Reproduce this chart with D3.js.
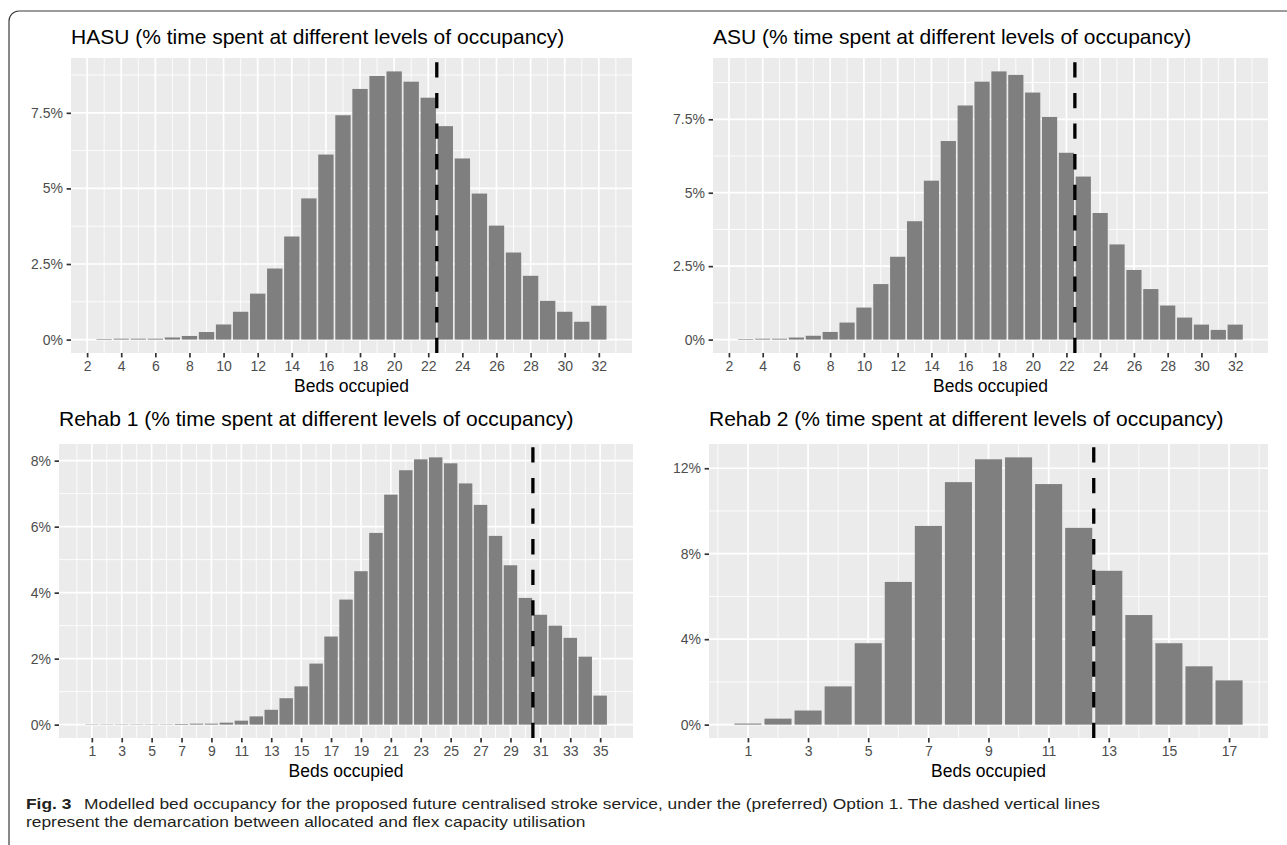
<!DOCTYPE html>
<html>
<head>
<meta charset="utf-8">
<script src="https://cdn.jsdelivr.net/npm/d3@7/dist/d3.min.js"></script>
<style>
  body { margin: 0; background: #fff; }
  svg { display: block; font-family: "Liberation Sans", Arial, Helvetica, sans-serif; }
</style>
</head>
<body>
<svg id="svg" width="1287" height="845"></svg>
<script>
// beds occupied -> % of time
const hasuBeds = [3, 4, 5, 6, 7, 8, 9, 10, 11, 12, 13, 14, 15, 16, 17, 18, 19, 20, 21, 22, 23, 24, 25, 26, 27, 28, 29, 30, 31, 32];
const hasuPct = [0.02, 0.03, 0.03, 0.03, 0.07, 0.12, 0.25, 0.5, 0.92, 1.52, 2.35, 3.41, 4.67, 6.12, 7.42, 8.29, 8.72, 8.87, 8.53, 8.0, 7.06, 5.99, 4.83, 3.77, 2.88, 2.11, 1.28, 0.92, 0.59, 1.12];

const asuBeds = [3, 4, 5, 6, 7, 8, 9, 10, 11, 12, 13, 14, 15, 16, 17, 18, 19, 20, 21, 22, 23, 24, 25, 26, 27, 28, 29, 30, 31, 32];
const asuPct = [0.02, 0.03, 0.03, 0.07, 0.13, 0.26, 0.58, 1.09, 1.89, 2.82, 4.03, 5.41, 6.76, 7.97, 8.78, 9.13, 9.01, 8.41, 7.58, 6.36, 5.55, 4.31, 3.24, 2.37, 1.72, 1.16, 0.75, 0.51, 0.33, 0.51];

const rehab1Beds = [1, 2, 3, 4, 5, 6, 7, 8, 9, 10, 11, 12, 13, 14, 15, 16, 17, 18, 19, 20, 21, 22, 23, 24, 25, 26, 27, 28, 29, 30, 31, 32, 33, 34, 35];
const rehab1Pct = [0.01, 0.01, 0.01, 0.01, 0.01, 0.01, 0.02, 0.03, 0.03, 0.06, 0.12, 0.25, 0.45, 0.8, 1.16, 1.85, 2.67, 3.79, 4.65, 5.81, 6.97, 7.71, 8.04, 8.1, 7.92, 7.31, 6.66, 5.72, 4.83, 3.84, 3.33, 3.0, 2.63, 2.06, 0.88];

const rehab2Beds = [1, 2, 3, 4, 5, 6, 7, 8, 9, 10, 11, 12, 13, 14, 15, 16, 17];
const rehab2Pct = [0.05, 0.28, 0.66, 1.79, 3.81, 6.68, 9.3, 11.35, 12.42, 12.51, 11.26, 9.21, 7.2, 5.13, 3.81, 2.73, 2.07];

// allocated / flex demarcation
const hasuCut = 22.5;
const asuCut = 22.5;
const rehab1Cut = 30.5;
const rehab2Cut = 12.5;

// axis ticks
const evenTicks = [2, 4, 6, 8, 10, 12, 14, 16, 18, 20, 22, 24, 26, 28, 30, 32];
const rehab1XTicks = [1, 3, 5, 7, 9, 11, 13, 15, 17, 19, 21, 23, 25, 27, 29, 31, 33, 35];
const rehab2XTicks = [1, 3, 5, 7, 9, 11, 13, 15, 17];
const topYTicks = [0, 2.5, 5, 7.5];
const topYLabels = ['0%', '2.5%', '5%', '7.5%'];
const rehab1YTicks = [0, 2, 4, 6, 8];
const rehab1YLabels = ['0%', '2%', '4%', '6%', '8%'];
const rehab2YTicks = [0, 4, 8, 12];
const rehab2YLabels = ['0%', '4%', '8%', '12%'];

const titles = [
  'HASU (% time spent at different levels of occupancy)',
  'ASU (% time spent at different levels of occupancy)',
  'Rehab 1 (% time spent at different levels of occupancy)',
  'Rehab 2 (% time spent at different levels of occupancy)',
];
const xTitle = 'Beds occupied';

const captionLabel = 'Fig. 3';
const captionLine1 = 'Modelled bed occupancy for the proposed future centralised stroke service, under the (preferred) Option 1. The dashed vertical lines';
const captionLine2 = 'represent the demarcation between allocated and flex capacity utilisation';

const panels = [
  { title: titles[0], beds: hasuBeds, pct: hasuPct, cut: hasuCut, xTicks: evenTicks, yTicks: topYTicks, yLabels: topYLabels,
    box: { left: 71, right: 632, top: 58, bottom: 353, titleY: 44 } },
  { title: titles[1], beds: asuBeds, pct: asuPct, cut: asuCut, xTicks: evenTicks, yTicks: topYTicks, yLabels: topYLabels,
    box: { left: 713, right: 1268, top: 58, bottom: 353, titleY: 44 } },
  { title: titles[2], beds: rehab1Beds, pct: rehab1Pct, cut: rehab1Cut, xTicks: rehab1XTicks, yTicks: rehab1YTicks, yLabels: rehab1YLabels,
    box: { left: 59, right: 633, top: 444, bottom: 738, titleY: 426 } },
  { title: titles[3], beds: rehab2Beds, pct: rehab2Pct, cut: rehab2Cut, xTicks: rehab2XTicks, yTicks: rehab2YTicks, yLabels: rehab2YLabels,
    box: { left: 709, right: 1268, top: 444, bottom: 738, titleY: 426 } },
];

const svg = d3.select('#svg');

// figure frame (journal box, open at right and bottom)
svg.append('path')
  .attr('d', 'M9,845 V21 A10,10 0 0 1 19,11 H1287')
  .attr('fill', 'none')
  .attr('stroke', '#3a3a3a')
  .attr('stroke-width', 1.2);

// minor breaks halfway between majors, one step past each end, kept inside the domain
function minorBreaks(ticks, domain) {
  const step = ticks[1] - ticks[0];
  const m = ticks.map((t) => t - step / 2).concat([ticks[ticks.length - 1] + step / 2]);
  return m.filter((v) => v >= domain[0] && v <= domain[1]);
}

function drawPanel(p) {
  const b = p.box;
  const lo = d3.min(p.beds) - 0.45;
  const hi = d3.max(p.beds) + 0.45;
  const xPad = (hi - lo) * 0.05;
  const xDomain = [lo - xPad, hi + xPad];
  const yMax = d3.max(p.pct);
  const yDomain = [-0.05 * yMax, 1.05 * yMax];

  const x = d3.scaleLinear().domain(xDomain).range([b.left, b.right]);
  const y = d3.scaleLinear().domain(yDomain).range([b.bottom, b.top]);

  const g = svg.append('g');

  g.append('rect')
    .attr('x', b.left).attr('y', b.top)
    .attr('width', b.right - b.left).attr('height', b.bottom - b.top)
    .attr('fill', '#EBEBEB');

  const grid = g.append('g').attr('stroke', '#fff');
  grid.append('g').selectAll('line').data(minorBreaks(p.xTicks, xDomain)).join('line')
    .attr('x1', (d) => x(d)).attr('x2', (d) => x(d))
    .attr('y1', b.top).attr('y2', b.bottom).attr('stroke-width', 0.85);
  grid.append('g').selectAll('line').data(minorBreaks(p.yTicks, yDomain)).join('line')
    .attr('y1', (d) => y(d)).attr('y2', (d) => y(d))
    .attr('x1', b.left).attr('x2', b.right).attr('stroke-width', 0.85);
  grid.append('g').selectAll('line').data(p.xTicks).join('line')
    .attr('x1', (d) => x(d)).attr('x2', (d) => x(d))
    .attr('y1', b.top).attr('y2', b.bottom).attr('stroke-width', 1.7);
  grid.append('g').selectAll('line').data(p.yTicks).join('line')
    .attr('y1', (d) => y(d)).attr('y2', (d) => y(d))
    .attr('x1', b.left).attr('x2', b.right).attr('stroke-width', 1.7);

  const rows = p.beds.map((bed, i) => ({ bed: bed, v: p.pct[i] }));
  g.append('g').attr('fill', '#7F7F7F')
    .selectAll('rect').data(rows).join('rect')
    .attr('x', (d) => x(d.bed - 0.45))
    .attr('width', (d) => x(d.bed + 0.45) - x(d.bed - 0.45))
    .attr('y', (d) => y(d.v))
    .attr('height', (d) => y(0) - y(d.v));

  // dashed demarcation, drawn bottom-up like geom_vline
  g.append('line')
    .attr('x1', x(p.cut)).attr('x2', x(p.cut))
    .attr('y1', b.bottom).attr('y2', b.top)
    .attr('stroke', '#000')
    .attr('stroke-width', 3.3)
    .attr('stroke-dasharray', '15.3,15.3');

  const xAxis = g.append('g')
    .attr('transform', 'translate(0,' + b.bottom + ')')
    .call(d3.axisBottom(x).tickValues(p.xTicks).tickSize(4.4).tickPadding(3.6));
  const yAxis = g.append('g')
    .attr('transform', 'translate(' + b.left + ',0)')
    .call(d3.axisLeft(y).tickValues(p.yTicks).tickFormat((d, i) => p.yLabels[i]).tickSize(4.4).tickPadding(3.6));

  [xAxis, yAxis].forEach((a) => {
    a.select('.domain').remove();
    a.selectAll('.tick line').attr('stroke', '#333').attr('stroke-width', 1.7);
    a.selectAll('.tick text')
      .attr('fill', '#4D4D4D')
      .style('font-size', '14px')
      .style('font-family', '"Liberation Sans", Arial, sans-serif');
  });

  g.append('text')
    .attr('x', b.left).attr('y', b.titleY)
    .attr('fill', '#000')
    .style('font-size', '21px')
    .text(p.title);

  g.append('text')
    .attr('x', (b.left + b.right) / 2).attr('y', b.bottom + 39)
    .attr('text-anchor', 'middle')
    .attr('fill', '#000')
    .style('font-size', '17.5px')
    .text(xTitle);
}

panels.forEach(drawPanel);

// caption: narrow journal face imitated by squeezing the text to the measured line width
const cap = svg.append('g')
  .style('font-family', '"Liberation Sans", Arial, sans-serif')
  .style('font-size', '15px')
  .attr('fill', '#231F20');
const capLeft = 26;
const capRight = 1100;
const capGap = 11;

const figText = cap.append('text').attr('x', capLeft).attr('y', 809)
  .style('font-weight', 'bold').text(captionLabel);
const line1 = cap.append('text').attr('y', 809).text(captionLine1);
const line2 = cap.append('text').attr('x', capLeft).attr('y', 826.5).text(captionLine2);

const figW = figText.node().getComputedTextLength();
const l1W = line1.node().getComputedTextLength();
const l2W = line2.node().getComputedTextLength();
const ratio = (capRight - capLeft) / (figW + capGap + l1W);

figText.attr('textLength', figW * ratio).attr('lengthAdjust', 'spacingAndGlyphs');
line1.attr('x', capLeft + (figW + capGap) * ratio)
  .attr('textLength', l1W * ratio).attr('lengthAdjust', 'spacingAndGlyphs');
line2.attr('textLength', l2W * ratio).attr('lengthAdjust', 'spacingAndGlyphs');
</script>
</body>
</html>
